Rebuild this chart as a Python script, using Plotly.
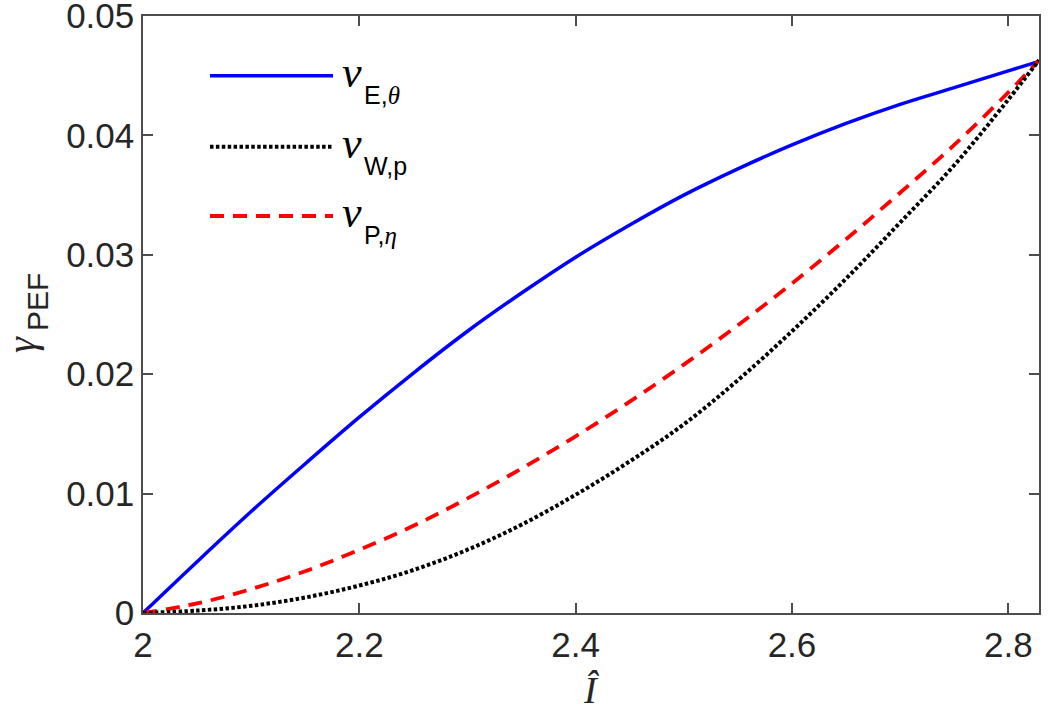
import plotly.graph_objects as go

# ---------------- data ----------------
I_hat = [2.00, 2.05, 2.10, 2.15, 2.20, 2.25, 2.30, 2.35, 2.40, 2.45,
         2.50, 2.55, 2.60, 2.65, 2.70, 2.75, 2.80, 2.8284]

nu_E_theta = [0.0, 0.0043, 0.0085, 0.0125, 0.0164, 0.0201, 0.0236, 0.0268, 0.0298, 0.0325,
              0.0350, 0.0372, 0.0392, 0.0410, 0.0426, 0.0440, 0.0454, 0.0462]
nu_W_p = [0.0, 0.0002, 0.0006, 0.0013, 0.0023, 0.0036, 0.0053, 0.0074, 0.0099, 0.0127,
          0.0158, 0.0195, 0.0236, 0.0280, 0.0327, 0.0375, 0.0430, 0.0463]
nu_P_eta = [0.0, 0.0008, 0.0020, 0.0035, 0.0053, 0.0073, 0.0096, 0.0121, 0.0148, 0.0177,
            0.0208, 0.0241, 0.0276, 0.0313, 0.0352, 0.0392, 0.0436, 0.0463]

x_ticks = [2.0, 2.2, 2.4, 2.6, 2.8]
x_tick_text = ["2", "2.2", "2.4", "2.6", "2.8"]
y_ticks = [0, 0.01, 0.02, 0.03, 0.04, 0.05]
y_tick_text = ["0", "0.01", "0.02", "0.03", "0.04", "0.05"]

# ---------------- figure ----------------
W, H = 1050, 719
ML, MR, MT, MB = 143, 11, 16, 106
PW, PH = W - ML - MR, H - MT - MB

def px(xp):
    return (xp - ML) / PW

def py(yp):
    return (H - MB - yp) / PH

BLACK_DOT = "3.5px,2.4px"
RED_DASH = "14px,9px"

fig = go.Figure()
fig.add_trace(go.Scatter(x=I_hat, y=nu_E_theta, mode="lines", line_shape="spline",
                         line=dict(color="#0000ff", width=3.5), showlegend=False))
fig.add_trace(go.Scatter(x=I_hat, y=nu_P_eta, mode="lines", line_shape="spline",
                         line=dict(color="#ff0000", width=3.8, dash=RED_DASH), showlegend=False))
fig.add_trace(go.Scatter(x=I_hat, y=nu_W_p, mode="lines", line_shape="spline",
                         line=dict(color="#000000", width=4, dash=BLACK_DOT), showlegend=False))

axis_common = dict(
    showgrid=False, zeroline=False, showline=True, mirror="allticks", automargin=False,
    linecolor="#4d4d4d", linewidth=1.5, ticks="inside", ticklen=10, tickwidth=1.5,
    tickcolor="#4d4d4d", ticklabeloverflow="allow",
    tickfont=dict(family="Liberation Sans, Arial, sans-serif", size=35, color="#262626"),
)

fig.update_xaxes(range=[2, 2.8284], tickvals=x_ticks, ticktext=x_tick_text, **axis_common)
fig.update_yaxes(range=[0, 0.05], tickvals=y_ticks, ticktext=y_tick_text, **axis_common)

serif = "Liberation Serif, DejaVu Serif, serif"
sans = "Liberation Sans, Arial, sans-serif"

annotations = []
# axis titles
annotations.append(dict(text="<i>Î</i>", x=px(591), y=py(690), xref="paper", yref="paper",
                        showarrow=False, xanchor="center", yanchor="middle",
                        font=dict(family=serif, size=38, color="#262626")))
annotations.append(dict(text="<i>γ</i>", x=px(21), y=py(345), xref="paper", yref="paper",
                        showarrow=False, xanchor="center", yanchor="middle", textangle=-90,
                        font=dict(family=serif, size=40, color="#262626")))
annotations.append(dict(text="PEF", x=px(37), y=py(302), xref="paper", yref="paper",
                        showarrow=False, xanchor="center", yanchor="middle", textangle=-90,
                        font=dict(family=sans, size=30, color="#262626")))

# manual legend
legend_rows = [
    (75.7, "#0000ff", "solid", 3.5, "E,", "θ"),
    (146.7, "#000000", BLACK_DOT, 4, "W,p", ""),
    (216.0, "#ff0000", RED_DASH, 3.8, "P,", "η"),
]
shapes = []
for yl, col, dash, lw, sub_sans, sub_greek in legend_rows:
    shapes.append(dict(type="line", xref="paper", yref="paper",
                       x0=px(210), x1=px(333), y0=py(yl), y1=py(yl),
                       line=dict(color=col, width=lw, dash=dash)))
    annotations.append(dict(text="<i>ν</i>", x=px(340), y=py(yl - 3), xref="paper", yref="paper",
                            showarrow=False, xanchor="left", yanchor="middle",
                            font=dict(family=serif, size=44, color="#000000")))
    sub = sub_sans
    if sub_greek:
        sub += '<span style="font-family:Liberation Serif"><i>%s</i></span>' % sub_greek
    annotations.append(dict(text=sub, x=px(362), y=py(yl + 19), xref="paper", yref="paper",
                            showarrow=False, xanchor="left", yanchor="middle",
                            font=dict(family=sans, size=25, color="#000000")))

fig.update_layout(
    width=W, height=H,
    margin=dict(l=ML, r=MR, t=MT, b=MB, pad=0, autoexpand=False),
    paper_bgcolor="white", plot_bgcolor="white",
    annotations=annotations, shapes=shapes,
    showlegend=False,
)

fig.write_html("out.html", config={"displayModeBar": False},
               post_script="document.body.style.margin='0px';document.body.style.overflow='hidden';")
